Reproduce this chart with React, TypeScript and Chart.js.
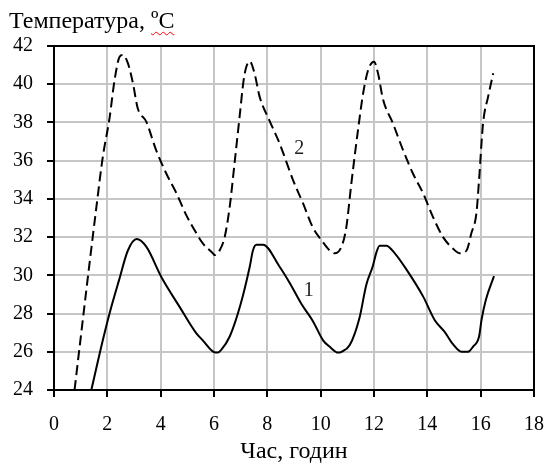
import React, { useEffect, useRef } from "react";
import { Chart, registerables } from "chart.js";

Chart.register(...registerables);

const xTicksMin = 0;
const xTicksMax = 18;
const yTicksMin = 24;
const yTicksMax = 42;

const hours1 = [1.4, 1.83, 2.12, 2.45, 2.77, 3.1, 3.46, 4.03, 4.71, 5.34, 5.58, 5.98, 6.15, 6.27, 6.59, 7.0, 7.34, 7.46, 7.59, 7.84, 8.46, 8.84, 9.28, 9.71, 10.09, 10.34, 10.65, 10.78, 11.09, 11.46, 11.71, 11.96, 12.09, 12.21, 12.46, 12.78, 13.22, 13.84, 14.28, 14.65, 14.96, 15.28, 15.53, 15.71, 15.94, 16.03, 16.19, 16.5];
const temp1 = [24, 26.6, 28.2, 29.8, 31.3, 31.9, 31.5, 29.9, 28.35, 26.96, 26.6, 26.0, 25.96, 26.1, 26.8, 28.5, 30.45, 31.3, 31.6, 31.6, 30.45, 29.6, 28.5, 27.6, 26.6, 26.26, 25.96, 26.0, 26.35, 27.8, 29.5, 30.5, 31.2, 31.55, 31.55, 31.15, 30.3, 28.9, 27.65, 27.04, 26.4, 26.0, 26.0, 26.26, 26.8, 27.65, 28.7, 29.96];

const hours2 = [0.77, 1.02, 1.33, 1.61, 1.83, 2.08, 2.27, 2.46, 2.58, 2.77, 2.96, 3.14, 3.46, 3.83, 4.21, 4.59, 4.96, 5.34, 5.58, 5.96, 6.02, 6.21, 6.4, 6.59, 6.77, 6.96, 7.11, 7.21, 7.34, 7.52, 7.71, 8.08, 8.46, 8.96, 9.34, 9.71, 10.03, 10.34, 10.53, 10.78, 10.96, 11.15, 11.4, 11.59, 11.78, 12.0, 12.15, 12.34, 12.71, 13.09, 13.46, 13.84, 14.21, 14.59, 14.96, 15.22, 15.47, 15.65, 15.84, 15.94, 16.09, 16.28, 16.47];
const temp2 = [24, 26.96, 30.6, 33.8, 36.2, 38.2, 40.2, 41.44, 41.53, 41.1, 40.05, 38.74, 38.04, 36.55, 35.33, 34.3, 33.15, 32.2, 31.67, 31.15, 31.06, 31.3, 32.0, 33.6, 35.86, 38.3, 40.2, 40.9, 41.2, 40.57, 39.35, 38.1, 36.9, 35.0, 33.76, 32.5, 31.84, 31.3, 31.15, 31.5, 32.5, 34.8, 37.6, 39.5, 40.74, 41.18, 40.57, 39.2, 37.95, 36.55, 35.33, 34.3, 33.06, 32.0, 31.4, 31.15, 31.3, 32.2, 33.24, 35.0, 37.95, 39.35, 40.57];

const curveLabels = ["1", "2"];
const curveLabelX = [9.55, 9.2];
const curveLabelY = [29.2, 36.6];

const yTitle = "Температура, º";
const yTitleUnit = "C";
const xTitle = "Час, годин";

const FONT = "'Liberation Serif', 'Times New Roman', serif";

export default function App() {
  const ref = useRef<HTMLCanvasElement>(null);
  useEffect(() => {
    const ctx = ref.current!;
    const borderPlugin = {
      id: "frame",
      afterDatasetsDraw(chart: any) {
        const { ctx: c, chartArea: a, scales } = chart;
        c.save();
        c.strokeStyle = "#000";
        c.lineWidth = 2;
        c.strokeRect(a.left, a.top, a.right - a.left, a.bottom - a.top);
        c.fillStyle = "#222";
        c.font = `20px ${FONT}`;
        c.textAlign = "center";
        c.textBaseline = "middle";
        curveLabels.forEach((t, i) => {
          c.fillText(t, scales.x.getPixelForValue(curveLabelX[i]), scales.y.getPixelForValue(curveLabelY[i]));
        });
        c.restore();
      },
    };
    const chart = new Chart(ctx, {
      type: "line",
      data: {
        datasets: [
          {
            label: "1",
            data: hours1.map((x, i) => ({ x, y: temp1[i] })),
            borderColor: "#000",
            borderWidth: 2,
            pointRadius: 0,
            cubicInterpolationMode: "monotone",
          },
          {
            label: "2",
            data: hours2.map((x, i) => ({ x, y: temp2[i] })),
            borderColor: "#000",
            borderWidth: 2,
            borderDash: [10, 5],
            pointRadius: 0,
            cubicInterpolationMode: "monotone",
          },
        ],
      },
      options: {
        animation: false,
        responsive: false,
        layout: { padding: { top: 46, right: 13, left: 0, bottom: 0 } },
        plugins: { legend: { display: false }, tooltip: { enabled: false } },
        scales: {
          x: {
            type: "linear",
            min: xTicksMin,
            max: xTicksMax,
            afterFit: (s: any) => { s.height = 74; s.paddingRight = 0; s.paddingLeft = 0; },
            ticks: { stepSize: 2, color: "#000", font: { family: FONT, size: 20 }, padding: 16, maxRotation: 0 },
            grid: { color: "#c6c6c6", lineWidth: 2, tickColor: "#000", tickLength: 7, tickWidth: 2 },
            border: { color: "#000", width: 2 },
            title: { display: true, text: xTitle, color: "#000", font: { family: FONT, size: 24, lineHeight: 1 }, padding: { top: 0, bottom: 0 } },
          },
          y: {
            type: "linear",
            min: yTicksMin,
            max: yTicksMax,
            afterFit: (s: any) => { s.width = 54; s.paddingTop = 0; s.paddingBottom = 0; },
            ticks: { stepSize: 2, color: "#000", font: { family: FONT, size: 20 }, padding: 14 },
            grid: { color: "#c6c6c6", lineWidth: 2, tickColor: "#000", tickLength: 7, tickWidth: 2 },
            border: { color: "#000", width: 2 },
          },
        },
      },
      plugins: [borderPlugin],
    } as any);
    return () => chart.destroy();
  }, []);
  return (
    <div style={{ position: "fixed", left: 0, top: 0, width: 547, height: 464, background: "#fff" }}>
      <canvas ref={ref} width={547} height={464} style={{ position: "absolute", left: 0, top: 0 }} />
      <div
        style={{
          position: "absolute",
          left: 9,
          top: 8,
          fontFamily: FONT,
          fontSize: 24,
          lineHeight: 1,
          color: "#000",
          whiteSpace: "nowrap",
        }}
      >
        {yTitle.slice(0, -1)}
        <span style={{ textDecoration: "underline wavy red", textDecorationThickness: 1, textUnderlineOffset: 3 }}>
          {yTitle.slice(-1) + yTitleUnit}
        </span>
      </div>
    </div>
  );
}
